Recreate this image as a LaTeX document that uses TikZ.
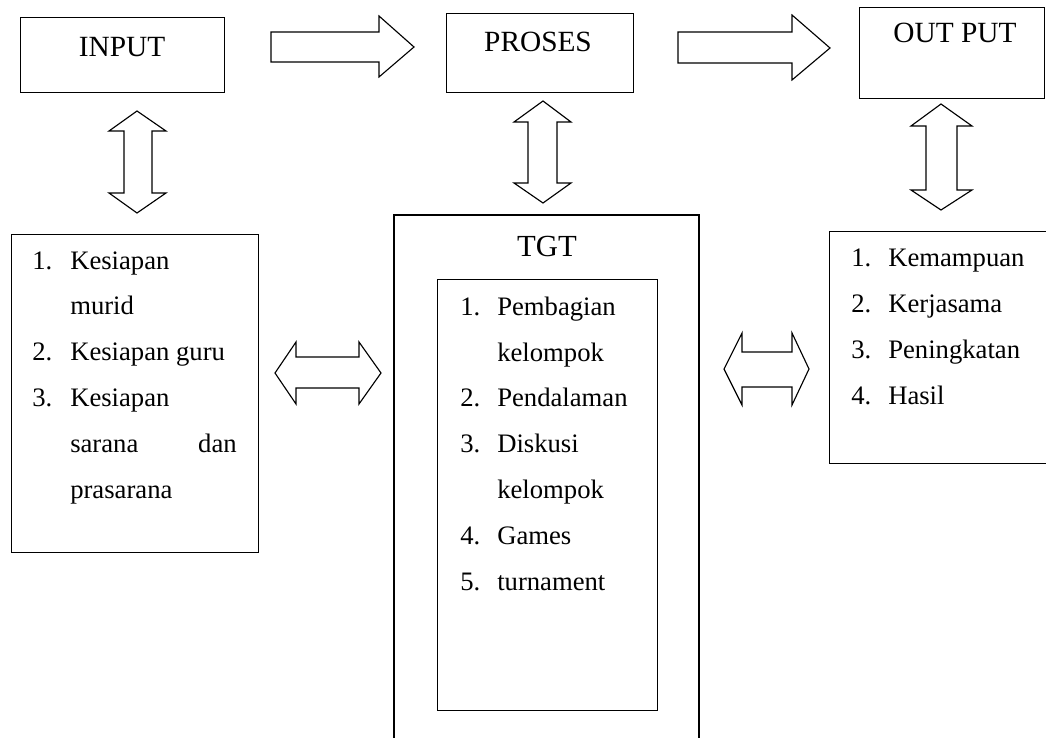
\documentclass[tikz,border=0pt]{standalone}
\usepackage{fontspec}
\setmainfont{Liberation Serif}
\begin{document}
\begin{tikzpicture}[x=0.75pt,y=-0.75pt,
  box/.style={draw=black,line width=1pt,rectangle,inner sep=0pt,anchor=north west},
  blk/.style={draw=black,line width=0.85pt,line join=miter,fill=white},
  title/.style={inner sep=0pt,anchor=base,font=\fontsize{22}{26}\selectfont},
  item/.style={inner sep=0pt,anchor=base west,font=\fontsize{20}{24}\selectfont}]
\useasboundingbox (0,0) rectangle (1046,738);
% top boxes
\node[box,minimum width=153pt,minimum height=56.25pt] (inbox) at (20,17) {};
\node[box,minimum width=140.25pt,minimum height=59.25pt] (prbox) at (446,13) {};
\node[box,minimum width=138.75pt,minimum height=68.25pt] (outbox) at (859,7) {};
\node[title] (tin) at (122,57) {INPUT};
\node[title] (tpr) at (538,52) {PROSES};
\node[title] (tout) at (955,43) {OUT PUT};
% single arrows
\draw[blk] (271,32) -- (379,32) -- (379,16) -- (414,47) -- (379,77) -- (379,62) -- (271,62) -- cycle;
\draw[blk] (678,32) -- (792,32) -- (792,15) -- (830,48) -- (792,80) -- (792,63) -- (678,63) -- cycle;
% vertical double arrows
\draw[blk] (137,111) -- (166,131) -- (152,131) -- (152,193) -- (166,193) -- (137,213) -- (109,193) -- (124,193) -- (124,131) -- (109,131) -- cycle;
\draw[blk] (543,101) -- (571,122) -- (557,122) -- (557,183) -- (571,183) -- (543,203) -- (514,183) -- (528,183) -- (528,122) -- (514,122) -- cycle;
\draw[blk] (941,104) -- (972,126) -- (957,126) -- (957,190) -- (972,190) -- (941,210) -- (911,190) -- (926,190) -- (926,126) -- (911,126) -- cycle;
% horizontal double arrows
\draw[blk] (275,373) -- (296,342) -- (296,357) -- (359,357) -- (359,342) -- (381,373) -- (359,404) -- (359,388) -- (296,388) -- (296,404) -- cycle;
\draw[blk] (724,369) -- (742,333) -- (742,352) -- (792,352) -- (792,333) -- (809,369) -- (792,405) -- (792,387) -- (742,387) -- (742,405) -- cycle;
% left box
\node[box,minimum width=185.25pt,minimum height=238.5pt] (lbox) at (11,234) {};
\node[item] (l1n) at (32,269) {1.};
\node[item] (l1a) at (70,269) {Kesiapan};
\node[item] (l1b) at (70,314) {murid};
\node[item] (l2n) at (32,360) {2.};
\node[item] (l2a) at (70,360) {Kesiapan guru};
\node[item] (l3n) at (32,406) {3.};
\node[item] (l3a) at (70,406) {Kesiapan};
\node[item] (l3b) at (70,452) {sarana};
\node[item,anchor=base east] (l3c) at (237,452) {dan};
\node[item] (l3d) at (70,498) {prasarana};
% TGT box
\draw[line width=1pt] (394,745) -- (394,215) -- (699,215) -- (699,745);
\node[title,font=\fontsize{23}{27}\selectfont] (ttgt) at (547,256) {TGT};
\node[box,minimum width=165pt,minimum height=323.25pt] (ibox) at (437,279) {};
\node[item] (m1n) at (460,315) {1.};
\node[item] (m1a) at (497,315) {Pembagian};
\node[item] (m1b) at (497,361) {kelompok};
\node[item] (m2n) at (460,406) {2.};
\node[item] (m2a) at (497,406) {Pendalaman};
\node[item] (m3n) at (460,452) {3.};
\node[item] (m3a) at (497,452) {Diskusi};
\node[item] (m3b) at (497,498) {kelompok};
\node[item] (m4n) at (460,544) {4.};
\node[item] (m4a) at (497,544) {Games};
\node[item] (m5n) at (460,590) {5.};
\node[item] (m5a) at (497,590) {turnament};
% right box
\node[box,minimum width=165.75pt,minimum height=174pt] (rbox) at (829,231) {};
\node[item] (r1n) at (851,266) {1.};
\node[item] (r1a) at (888,266) {Kemampuan};
\node[item] (r2n) at (851,312) {2.};
\node[item] (r2a) at (888,312) {Kerjasama};
\node[item] (r3n) at (851,358) {3.};
\node[item] (r3a) at (888,358) {Peningkatan};
\node[item] (r4n) at (851,404) {4.};
\node[item] (r4a) at (888,404) {Hasil};
\end{tikzpicture}
\end{document}
